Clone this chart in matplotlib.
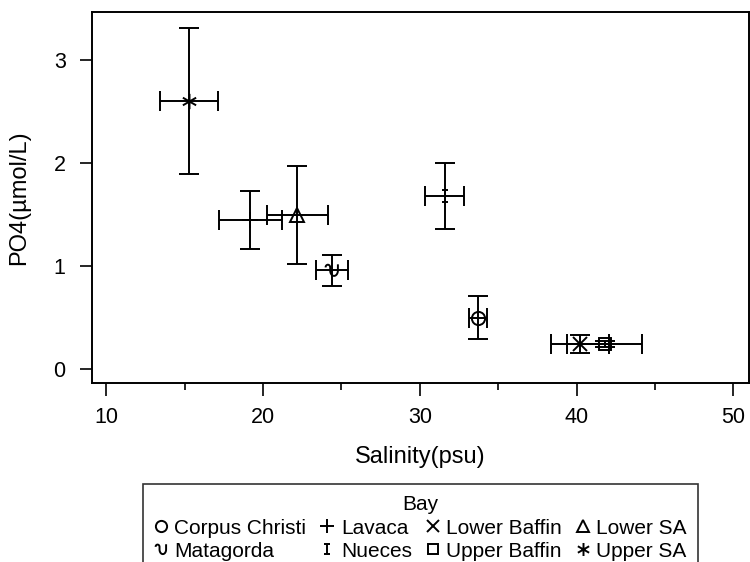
import numpy as np
import matplotlib
matplotlib.use('Agg')
import matplotlib.pyplot as plt
from matplotlib.path import Path

plt.rcParams['font.family'] = ['Liberation Sans', 'DejaVu Sans']

# データ（図から読み取った平均値と標準偏差）
bays = ['Corpus Christi', 'Lavaca', 'Lower Baffin', 'Lower SA',
        'Matagorda', 'Nueces', 'Upper Baffin', 'Upper SA']
salinity = [33.7, 19.2, 40.2, 22.2, 24.4, 31.6, 41.8, 15.3]
salinity_sd = [0.58, 2.0, 1.86, 1.95, 1.0, 1.25, 2.4, 1.85]
po4 = [0.50, 1.45, 0.245, 1.50, 0.96, 1.68, 0.24, 2.61]
po4_sd = [0.205, 0.28, 0.085, 0.475, 0.15, 0.32, 0.03, 0.71]

# SAS風のマーカー形状
a1 = np.linspace(np.pi, 0, 15)
a2 = np.linspace(np.pi, 2 * np.pi, 25)
tilde_pts = np.vstack([
    np.column_stack([-0.6 + 0.3 * np.cos(a1), 0.4 + 0.35 * np.sin(a1)]),
    np.column_stack([0.2 + 0.5 * np.cos(a2), 0.7 * np.sin(a2)]),
    [[0.7, 0.8]],
])
tilde = Path(tilde_pts)

M, L = Path.MOVETO, Path.LINETO
ibeam = Path([(0, -1), (0, 1), (-0.5, 1), (0.5, 1), (-0.5, -1), (0.5, -1)],
             [M, L, M, L, M, L])
c, s = np.cos(np.pi / 6), np.sin(np.pi / 6)
star = Path([(0, -1), (0, 1), (-c, -s), (c, s), (-c, s), (c, -s)],
            [M, L, M, L, M, L])

markers = ['o', '+', 'x', '^', tilde, ibeam, 's', star]
msizes = [9.5, 12, 9.5, 9.5, 10, 9, 8, 11]

fig = plt.figure(figsize=(7.5, 5.62), dpi=100)
ax = fig.add_axes([0.1227, 0.3185, 0.876, 0.660])

handles = []
for i, bay in enumerate(bays):
    ax.errorbar(salinity[i], po4[i], xerr=salinity_sd[i], yerr=po4_sd[i],
                fmt='none', ecolor='black', elinewidth=1.4, capsize=7, capthick=1.4)
    h, = ax.plot(salinity[i], po4[i], linestyle='none', marker=markers[i],
                 markersize=msizes[i], markerfacecolor='none',
                 markeredgecolor='black', markeredgewidth=1.4, label=bay)
    handles.append(h)

ax.set_xlim(9.1, 51.0)
ax.set_ylim(-0.136, 3.47)
ax.set_xticks([10, 20, 30, 40, 50])
ax.set_xticks([15, 25, 35, 45], minor=True)
ax.set_yticks([0, 1, 2, 3])
ax.tick_params(axis='both', which='major', direction='out', length=9, width=1.2,
               labelsize=15.5)
ax.tick_params(axis='x', which='major', pad=8)
ax.tick_params(axis='y', which='major', pad=10)
ax.tick_params(axis='x', which='minor', direction='out', length=5, width=1.2)
for sp in ax.spines.values():
    sp.set_linewidth(1.4)

ax.set_xlabel('Salinity(psu)', fontsize=17, labelpad=13)
ax.set_ylabel('PO4(µmol/L)', fontsize=17, labelpad=17)

# 凡例は行優先で並べる（図の下端からはみ出す）
order = [0, 4, 1, 5, 2, 6, 3, 7]
leg = fig.legend([handles[k] for k in order], [bays[k] for k in order],
                 ncol=4, title='Bay', fontsize=15, title_fontsize=15,
                 loc='upper center', bbox_to_anchor=(0.561, 0.139),
                 frameon=True, fancybox=False, edgecolor='black',
                 markerscale=0.85, handlelength=0.6, handletextpad=0.35,
                 columnspacing=0.7, labelspacing=0.2, borderpad=0.55,
                 borderaxespad=0)
leg.get_frame().set_linewidth(1.2)

fig.savefig('out.png', dpi=100)
